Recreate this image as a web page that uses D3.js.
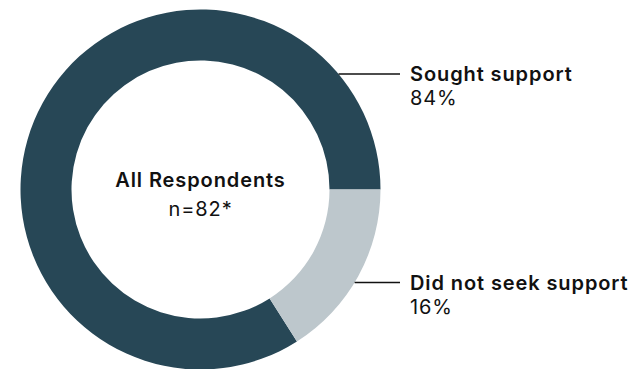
<!DOCTYPE html>
<html>
<head>
<meta charset="utf-8">
<script src="https://cdn.jsdelivr.net/npm/d3@7"></script>
<style>
  body { margin: 0; background: #fff; }
  svg { display: block; font-family: Inter, "Noto Sans", sans-serif; letter-spacing: 0.9px; }
</style>
</head>
<body>
<div id="wrapper"></div>
<script>
// data
const categories = ["Sought support", "Did not seek support"]
const values = [84, 16]
const colors = ["#274756", "#bdc7cc"]
const centerTitle = "All Respondents"
const centerNote = "n=82*"

const dataset = categories.map((c, i) => ({category: c, value: values[i], color: colors[i]}))

// dimensions
const dimensions = {
  width: 638,
  height: 369,
  cx: 200.5,
  cy: 189.5,
  outer: 180,
  inner: 129,
}

const wrapper = d3.select("#wrapper").append("svg")
    .attr("width", dimensions.width)
    .attr("height", dimensions.height)

const bounds = wrapper.append("g")
    .attr("transform", `translate(${dimensions.cx},${dimensions.cy})`)

// pie runs counter-clockwise from 3 o'clock so the small slice sits just below it
const pie = d3.pie()
    .sort(null)
    .value(d => d.value)
    .startAngle(Math.PI * 2.5)
    .endAngle(Math.PI * 0.5)

const arc = d3.arc()
    .innerRadius(dimensions.inner)
    .outerRadius(dimensions.outer)

const arcs = pie(dataset)

bounds.selectAll("path")
    .data(arcs).enter().append("path")
        .attr("d", arc)
        .attr("fill", d => d.data.color)

// center text
bounds.append("text")
    .attr("text-anchor", "middle")
    .attr("y", -2.5)
    .attr("font-size", 20)
    .attr("font-weight", 600)
    .attr("fill", "#111")
    .text(centerTitle)

bounds.append("text")
    .attr("text-anchor", "middle")
    .attr("y", 26)
    .attr("font-size", 20)
    .attr("fill", "#111")
    .text(centerNote)

// labels with leader lines
const labelY = [74 - dimensions.cy, 282.5 - dimensions.cy]
const labelX = 400 - dimensions.cx

const labels = bounds.selectAll(".label")
    .data(arcs).enter().append("g")
        .attr("class", "label")

labels.append("line")
    .attr("x1", (d, i) => Math.sqrt(dimensions.outer ** 2 - labelY[i] ** 2))
    .attr("x2", labelX)
    .attr("y1", (d, i) => labelY[i])
    .attr("y2", (d, i) => labelY[i])
    .attr("stroke", "#111")
    .attr("stroke-width", 1.3)

labels.append("text")
    .attr("x", labelX + 10)
    .attr("y", (d, i) => labelY[i] + 7)
    .attr("font-size", 20)
    .attr("font-weight", 600)
    .attr("fill", "#111")
    .text(d => d.data.category)

labels.append("text")
    .attr("x", labelX + 10)
    .attr("y", (d, i) => labelY[i] + 31)
    .attr("font-size", 20)
    .attr("fill", "#111")
    .text(d => d.data.value + "%")
</script>
</body>
</html>
